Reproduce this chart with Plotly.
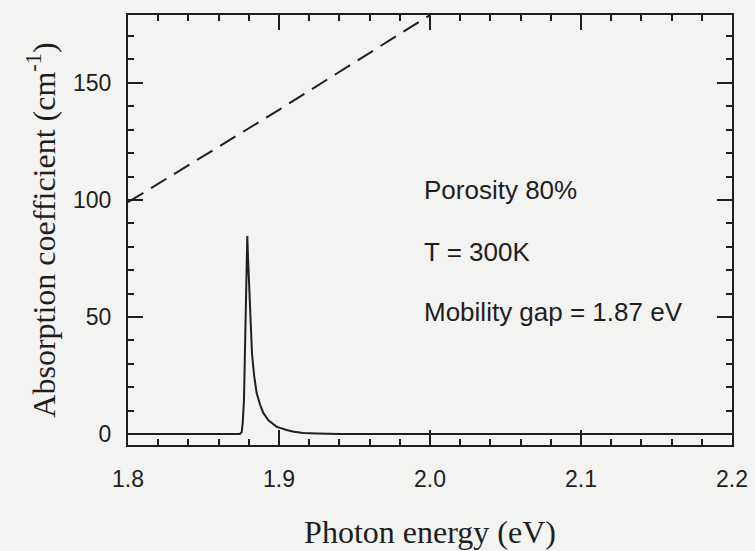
import plotly.graph_objects as go

# Data
peak_x = [1.80, 1.874, 1.8753, 1.876, 1.8768, 1.8775, 1.8781, 1.8787, 1.8790, 1.8795,
          1.8800, 1.8808, 1.8821, 1.8835, 1.8852, 1.8875, 1.8896, 1.8930, 1.8985,
          1.9007, 1.905, 1.910, 1.916, 1.925, 1.94, 2.2]
peak_y = [0, 0, 0.8, 5, 14.5, 35, 57, 78, 84.6, 75,
          66, 57, 34.6, 25, 17.5, 12.5, 9, 5.8, 3.1,
          2.6, 1.7, 1.0, 0.4, 0.2, 0, 0]

dash_x = [1.80, 1.90, 2.00]
dash_y = [99, 138.5, 179]

x_ticks = [1.8, 1.9, 2.0, 2.1, 2.2]
x_ticklabels = ["1.8", "1.9", "2.0", "2.1", "2.2"]
y_ticks = [0, 50, 100, 150]

notes = ["Porosity 80%", "T = 300K", "Mobility gap = 1.87 eV"]
note_y = [104.3, 77.8, 52.1]
note_x = 1.9947

ink = "#1e1e1e"
bg = "#f3f3f1"

fig = go.Figure()
fig.add_trace(go.Scatter(x=dash_x, y=dash_y, mode="lines",
                         line=dict(color=ink, width=2, dash="18px,9px"),
                         showlegend=False, hoverinfo="skip"))
fig.add_trace(go.Scatter(x=peak_x, y=peak_y, mode="lines",
                         line=dict(color=ink, width=2),
                         showlegend=False, hoverinfo="skip"))

for t, yy in zip(notes, note_y):
    fig.add_annotation(x=note_x, y=yy, text=t, showarrow=False,
                       xanchor="left", yanchor="middle",
                       font=dict(family="Liberation Sans, Arial", size=26, color=ink))

axis_common = dict(showline=True, linecolor=ink, linewidth=2, mirror="ticks",
                   ticks="inside", ticklen=15, tickwidth=1.5, tickcolor=ink,
                   showgrid=False, zeroline=False, automargin=False,
                   tickfont=dict(family="Liberation Sans, Arial", size=23, color=ink))

fig.update_layout(
    width=755, height=551,
    margin=dict(l=128, r=23, t=15, b=106),
    paper_bgcolor=bg, plot_bgcolor=bg,
    xaxis=dict(range=[1.8, 2.2], tickvals=x_ticks, ticktext=x_ticklabels,
               ticklabelstandoff=12,
               minor=dict(dtick=0.02, ticks="inside", ticklen=6, tickcolor=ink, tickwidth=1.5),
               title=dict(text="Photon energy (eV)", standoff=30,
                          font=dict(family="Liberation Serif, Times New Roman", size=32, color=ink)),
               **axis_common),
    yaxis=dict(range=[-4.7, 179], tickvals=y_ticks,
               ticklabelstandoff=10,
               minor=dict(dtick=10, ticks="inside", ticklen=6, tickcolor=ink, tickwidth=1.5),
               title=dict(text="Absorption coefficient (cm<sup>-1</sup>)", standoff=8,
                          font=dict(family="Liberation Serif, Times New Roman", size=32, color=ink)),
               **axis_common),
)

fig.write_html("out.html", config={"displayModeBar": False},
               post_script="document.documentElement.style.overflow='hidden';document.body.style.margin='0';document.body.style.background='#f3f3f1';")
